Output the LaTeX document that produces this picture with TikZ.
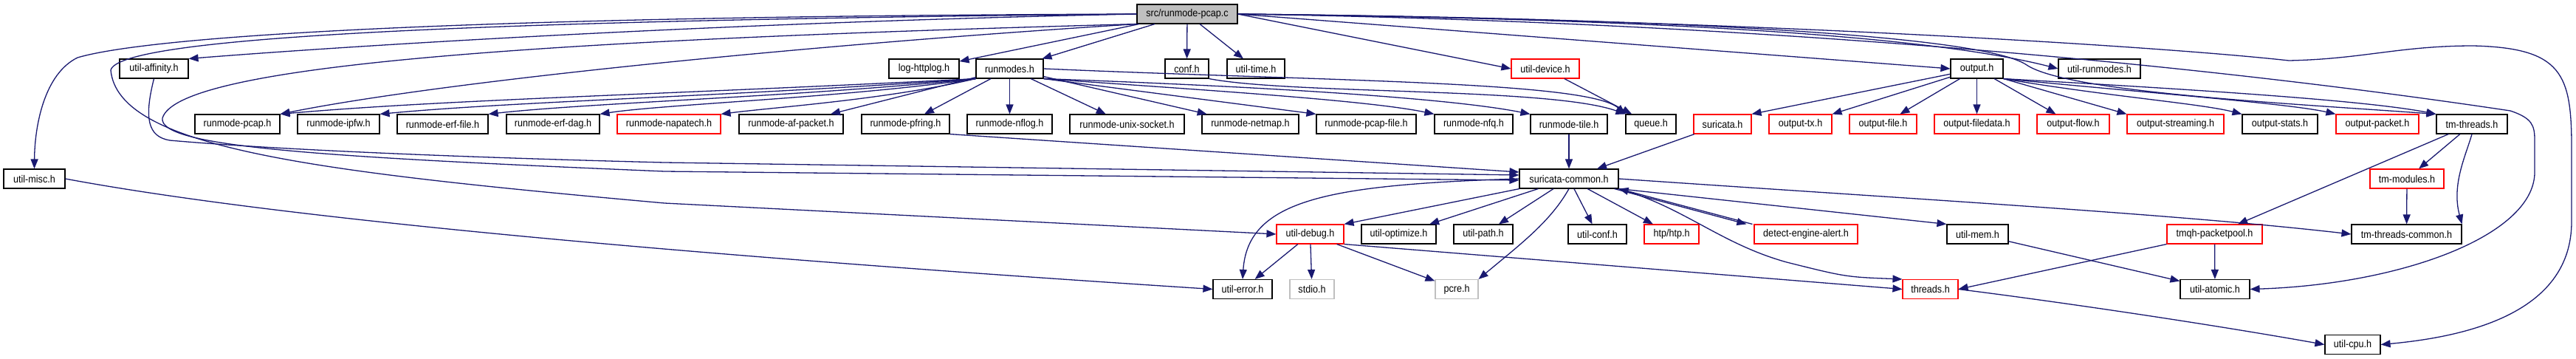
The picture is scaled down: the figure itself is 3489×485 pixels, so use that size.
\documentclass[tikz,border=0pt]{standalone}
\usepackage{fontspec}
\setmainfont{Liberation Sans}[FakeStretch=0.9]
\usetikzlibrary{arrows.meta}
\definecolor{edgec}{RGB}{25,25,112}
\definecolor{grayb}{RGB}{191,191,191}
\begin{document}
\begin{tikzpicture}[x=1pt,y=-1pt,
  box/.style={draw=black, line width=1.1pt, fill=white, minimum height=26pt, inner sep=0pt, font=\fontsize{14}{16}\selectfont},
  rbox/.style={box, draw=red},
  gbox/.style={box, draw=grayb},
  edge/.style={draw=edgec, line width=1.3pt, -{Triangle[length=13pt,width=10pt]}},
]
\useasboundingbox (0,0) rectangle (3489,485);
% row 0
\node[box, fill=grayb, minimum width=136pt] (root) at (1608,19) {src/runmode-pcap.c};
% row 1
\node[box, minimum width=93pt] (aff) at (208.5,93) {util-affinity.h};
\node[box, minimum width=95pt] (httplog) at (1251.5,93) {log-httplog.h};
\node[box, minimum width=91pt] (runmodes) at (1367.5,93) {runmodes.h};
\node[box, minimum width=59pt] (conf) at (1607.5,93) {conf.h};
\node[box, minimum width=78pt] (utime) at (1701,93) {util-time.h};
\node[rbox, minimum width=92pt] (udevice) at (2093,93) {util-device.h};
\node[box, minimum width=71pt] (output) at (2677.5,93) {output.h};
\node[box, minimum width=111pt] (urunmodes) at (2843.5,93) {util-runmodes.h};
% row 2
\node[box, minimum width=115pt] (rpcap) at (321.5,168) {runmode-pcap.h};
\node[box, minimum width=111pt] (ripfw) at (458.5,168) {runmode-ipfw.h};
\node[box, minimum width=123pt] (rerffile) at (599.5,168) {runmode-erf-file.h};
\node[box, minimum width=126pt] (rerfdag) at (749,168) {runmode-erf-dag.h};
\node[rbox, minimum width=140pt] (rnapatech) at (906,168) {runmode-napatech.h};
\node[box, minimum width=141pt] (rafpacket) at (1071.5,168) {runmode-af-packet.h};
\node[box, minimum width=119pt] (rpfring) at (1226.5,168) {runmode-pfring.h};
\node[box, minimum width=115pt] (rnflog) at (1367.5,168) {runmode-nflog.h};
\node[box, minimum width=155pt] (runix) at (1526.5,168) {runmode-unix-socket.h};
\node[box, minimum width=131pt] (rnetmap) at (1693.5,168) {runmode-netmap.h};
\node[box, minimum width=135pt] (rpcapfile) at (1850.5,168) {runmode-pcap-file.h};
\node[box, minimum width=106pt] (rnfq) at (1996,168) {runmode-nfq.h};
\node[box, minimum width=104pt] (rtile) at (2125,168) {runmode-tile.h};
\node[box, minimum width=68pt] (queue) at (2236,168) {queue.h};
\node[rbox, minimum width=78pt] (suricata) at (2333,168) {suricata.h};
\node[rbox, minimum width=85pt] (otx) at (2438.5,168) {output-tx.h};
\node[rbox, minimum width=91pt] (ofile) at (2550.5,168) {output-file.h};
\node[rbox, minimum width=115pt] (ofiledata) at (2677.5,168) {output-filedata.h};
\node[rbox, minimum width=98pt] (oflow) at (2808,168) {output-flow.h};
\node[rbox, minimum width=131pt] (ostreaming) at (2946.5,168) {output-streaming.h};
\node[box, minimum width=102pt] (ostats) at (3088,168) {output-stats.h};
\node[rbox, minimum width=112pt] (opacket) at (3220,168) {output-packet.h};
\node[box, minimum width=96pt] (tmthreads) at (3348,168) {tm-threads.h};
% row 3
\node[box, minimum width=83pt] (umisc) at (46.5,242) {util-misc.h};
\node[box, minimum width=134pt] (scommon) at (2125,242) {suricata-common.h};
\node[rbox, minimum width=100pt] (tmmodules) at (3260,242) {tm-modules.h};
% row 4
\node[rbox, minimum width=91pt] (udebug) at (1774.5,317) {util-debug.h};
\node[box, minimum width=101pt] (uoptimize) at (1894.5,317) {util-optimize.h};
\node[box, minimum width=80pt] (upath) at (2009,317) {util-path.h};
\node[box, minimum width=79pt] (uconf) at (2163.5,317) {util-conf.h};
\node[rbox, minimum width=74pt] (htp) at (2264,317) {htp/htp.h};
\node[rbox, minimum width=140pt] (dea) at (2446,317) {detect-engine-alert.h};
\node[box, minimum width=83pt] (umem) at (2678.5,317) {util-mem.h};
\node[rbox, minimum width=129pt] (tmqh) at (2999.5,317) {tmqh-packetpool.h};
\node[box, minimum width=149pt] (tmtc) at (3259.5,317) {tm-threads-common.h};
% row 5
\node[box, minimum width=80pt] (uerror) at (1683,391.5) {util-error.h};
\node[gbox, minimum width=60pt] (stdio) at (1777,391.5) {stdio.h};
\node[gbox, minimum width=58pt] (pcre) at (1973,391.5) {pcre.h};
\node[rbox, minimum width=75pt] (threads) at (2614.5,391.5) {threads.h};
\node[box, minimum width=94pt] (uatomic) at (3000,391.5) {util-atomic.h};
% row 6
\node[box, minimum width=75pt] (ucpu) at (3186.5,466.5) {util-cpu.h};

% ---- edges from root
\draw[edge] (root.west) .. controls (600,22) and (200,50) .. (105,78) .. controls (60,100) and (47,170) .. (umisc.north);
\draw[edge] (root.west) .. controls (600,28) and (160,52) .. (150,95) .. controls (160,200) and (420,232) .. (900,275) -- (udebug.west);
\draw[edge] (root.west) .. controls (1000,30) and (500,60) .. (aff.north east);
\draw[edge] (root.south west) .. controls (700,55) and (240,90) .. (220,160) .. controls (215,198) and (420,212) .. (900,232) -- ([yshift=-2pt]scommon.west);
\draw[edge] (root.south west) .. controls (1100,60) and (600,110) .. (rpcap.north east);
\draw[edge] (root) -- (httplog);
\draw[edge] (root) -- (runmodes);
\draw[edge] (root) -- (conf);
\draw[edge] (root) -- (utime);
\draw[edge] (root.east) -- (udevice.west);
\draw[edge] (root.east) -- (output.west);
\draw[edge] (root.east) .. controls (2200,25) and (2600,45) .. (urunmodes.west);
\draw[edge] (root.east) .. controls (2300,25) and (2690,50) .. (2745,88) .. controls (2800,125) and (3100,140) .. (tmthreads.north west);
\draw[edge] (root.east) .. controls (2300,25) and (2900,60) .. (3100,82) .. controls (3200,80) and (3250,62) .. (3350,62) .. controls (3470,65) and (3483,100) .. (3483,200) -- (3483,300) .. controls (3483,420) and (3350,455) .. (ucpu.east);
\draw[edge] (root.east) .. controls (2400,30) and (3000,90) .. (3400,150) .. controls (3430,160) and (3433,170) .. (3433,190) -- (3433,235) .. controls (3430,320) and (3250,385) .. (uatomic.east);
% ---- affinity / misc
\draw[edge] (aff.south) .. controls (195,160) and (200,185) .. (230,190) .. controls (400,205) and (700,215) .. (900,220) -- ([yshift=5pt]scommon.west);
\draw[edge] (umisc.east) .. controls (400,300) and (1000,350) .. (uerror.west);
% ---- runmodes
\draw[edge] (runmodes.south west) .. controls (900,128) and (600,135) .. (rpcap.north east);
\draw[edge] (runmodes.south west) .. controls (1000,130) and (700,137) .. (ripfw.north east);
\draw[edge] (runmodes.south west) .. controls (1100,130) and (800,139) .. (rerffile.north east);
\draw[edge] (runmodes.south west) .. controls (1150,132) and (900,141) .. (rerfdag.north east);
\draw[edge] (runmodes.south west) .. controls (1200,135) and (1050,145) .. (rnapatech.north east);
\draw[edge] (runmodes) -- (rafpacket);
\draw[edge] (runmodes) -- (rpfring);
\draw[edge] (runmodes) -- (rnflog);
\draw[edge] (runmodes) -- (runix);
\draw[edge] (runmodes) -- (rnetmap);
\draw[edge] (runmodes.south east) -- (rpcapfile.north west);
\draw[edge] (runmodes.south east) .. controls (1600,120) and (1850,135) .. (rnfq.north west);
\draw[edge] (runmodes.south east) .. controls (1650,115) and (1950,130) .. (rtile.north west);
\draw[edge] (runmodes.east) .. controls (1800,110) and (2150,110) .. (queue.north west);
\draw[edge] (conf.south east) .. controls (1750,128) and (2100,118) .. (queue.north west);
\draw[edge] (udevice) -- (queue);
\draw[edge] (rpfring.south east) -- ([yshift=9pt]scommon.west);
\draw[edge] (rtile) -- (scommon);
\draw[edge] (suricata) -- (scommon);
% ---- output
\draw[edge] (output) -- (suricata.north east);
\draw[edge] (output) -- (otx);
\draw[edge] (output) -- (ofile);
\draw[edge] (output) -- (ofiledata);
\draw[edge] (output) -- (oflow);
\draw[edge] (output.south east) -- (ostreaming.north west);
\draw[edge] (output.south east) .. controls (2850,130) and (2980,140) .. (ostats.north west);
\draw[edge] (output.south east) .. controls (2900,125) and (3100,140) .. (opacket.north west);
\draw[edge] (output.south east) .. controls (2950,120) and (3200,135) .. (tmthreads.north west);
% ---- tm-threads
\draw[edge] (tmthreads) -- (tmqh);
\draw[edge] (tmthreads) -- (tmmodules);
\draw[edge] (tmthreads.south) .. controls (3340,210) and (3320,250) .. (tmtc.north east);
\draw[edge] (tmmodules) -- (tmtc);
\draw[edge] (tmqh) -- (uatomic);
\draw[edge] (tmqh.south west) -- (threads.east);
% ---- suricata-common
\draw[edge] (scommon) -- (udebug.north east);
\draw[edge] (scommon) -- (uoptimize);
\draw[edge] (scommon) -- (upath);
\draw[edge] (scommon.south) .. controls (2100,300) and (2060,330) .. (pcre.north east);
\draw[edge] (scommon) -- (uconf);
\draw[edge] (scommon) -- (htp);
\draw[edge] ([xshift=-6pt]scommon.south east) -- ([xshift=-10pt]dea.north west);
\draw[edge] ([xshift=-2pt]dea.north west) -- (scommon.south east);
\draw[edge] (scommon.south east) .. controls (2280,280) and (2330,330) .. (2420,355) .. controls (2500,375) .. (threads.north west);
\draw[edge] (scommon.south east) -- (umem.north west);
\draw[edge] (scommon.east) .. controls (2600,270) and (2950,290) .. (tmtc.west);
\draw[edge] (scommon.west) .. controls (1800,250) and (1690,270) .. (uerror.north);
% ---- util-debug
\draw[edge] (udebug) -- (uerror);
\draw[edge] (udebug) -- (stdio);
\draw[edge] (udebug) -- (pcre);
\draw[edge] (udebug.south east) -- (threads.west);
% ---- misc
\draw[edge] (umem) -- (uatomic);
\draw[edge] (threads.east) .. controls (2800,410) and (3000,440) .. (ucpu.west);
\end{tikzpicture}
\end{document}
